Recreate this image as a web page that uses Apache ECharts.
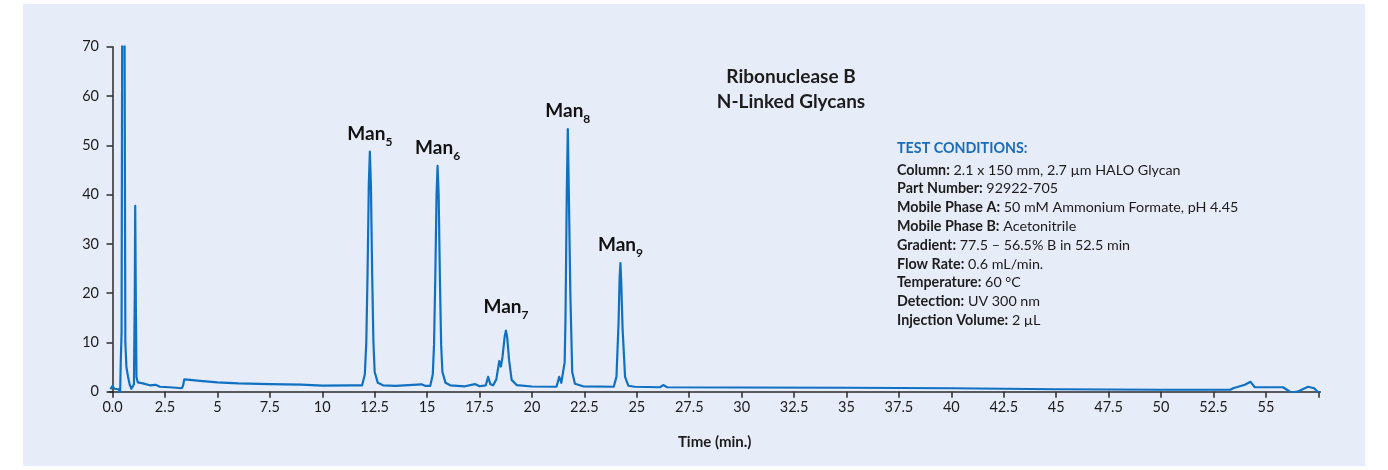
<!DOCTYPE html>
<html>
<head>
<meta charset="utf-8">
<script src="https://cdn.jsdelivr.net/npm/echarts@6/dist/echarts.min.js"></script>
<style>
  html, body { margin: 0; padding: 0; background: #ffffff; }
  #chart { width: 1388px; height: 470px; }
</style>
</head>
<body>
<div id="chart"></div>
<script>
// retention time (min) and detector signal
var times = [
  -0.10, 0.00, 0.08, 0.30, 0.36, 0.39, 0.43, 0.46, 0.51, 0.57, 0.61, 0.66, 0.74, 0.82, 0.90, 0.96,
  1.02, 1.06, 1.08, 1.11, 1.14, 1.20, 1.44, 1.78, 2.05, 2.26, 2.73, 3.30, 3.36, 3.42, 3.69, 4.16,
  5.00, 6.00, 7.50, 9.00, 10.00, 11.40, 11.90, 12.03, 12.10, 12.16, 12.22, 12.27, 12.32, 12.38, 12.44, 12.50, 12.65, 12.90,
  13.50, 14.73, 14.90, 15.15, 15.27, 15.33, 15.39, 15.45, 15.50, 15.55, 15.61, 15.67, 15.73, 15.88, 16.10, 16.80, 17.28, 17.50,
  17.80, 17.91, 18.02, 18.15, 18.30, 18.44, 18.52, 18.60, 18.70, 18.76, 18.82, 18.91, 19.03, 19.27, 20.00, 21.17,
  21.30, 21.40, 21.46, 21.56, 21.60, 21.66, 21.71, 21.76, 21.83, 21.92, 22.05, 22.44, 23.90, 24.03, 24.13, 24.18, 24.22,
  24.26, 24.32, 24.44, 24.60, 24.90, 26.10, 26.26, 26.45, 30.00, 35.00, 40.00, 45.00, 50.00, 53.30, 53.44,
  54.00, 54.27, 54.47, 55.82, 56.22, 56.50, 57.01, 57.30, 57.54
];
var signal = [
  0.5, 1.2, 0.6, 0.5, -0.5, 6.0, 12, 75, 140, 75, 10, 5, 3, 1.4, 0.6, 0.5,
  1.5, 20, 37.7, 18, 3, 1.9, 1.7, 1.3, 1.4, 1.0, 0.9, 0.7, 1.2, 2.5, 2.4, 2.2,
  1.9, 1.7, 1.55, 1.45, 1.25, 1.3, 1.3, 3.5, 10, 24, 42, 48.7, 42, 24, 10, 4, 1.8, 1.3,
  1.2, 1.5, 1.2, 1.2, 3.5, 9.5, 23, 40, 45.8, 40, 23, 9.5, 4, 1.8, 1.3, 1.1, 1.55, 1.1,
  1.3, 3.0, 1.5, 1.3, 2.5, 6.2, 5.1, 7.2, 11.2, 12.4, 11.0, 6.4, 2.4, 1.35, 1.05, 1.0,
  3.0, 1.8, 1.8, 6, 15, 40, 53.3, 40, 20, 4, 1.6, 1.1, 1.0, 3, 14, 23, 26.1,
  22, 13, 3, 1.2, 1.0, 0.9, 1.35, 0.9, 0.85, 0.8, 0.7, 0.5, 0.4, 0.4, 0.7,
  1.4, 2.0, 0.9, 0.9, -0.2, 0.0, 1.0, 0.7, -0.3
];

// peak annotations
var peakNames = ['5', '6', '7', '8', '9'];
var peakTimes = [12.27, 15.50, 18.76, 21.71, 24.22];
var peakHeights = [48.7, 45.8, 12.4, 53.3, 26.1];

// axis ticks
var xTickValues = [0, 2.5, 5, 7.5, 10, 12.5, 15, 17.5, 20, 22.5, 25, 27.5, 30, 32.5, 35, 37.5, 40, 42.5, 45, 47.5, 50, 52.5, 55, 57.5];
var xTickLabels = ['0.0', '2.5', '5', '7.5', '10', '12.5', '15', '17.5', '20', '22.5', '25', '27.5', '30', '32.5', '35', '37.5', '40', '42.5', '45', '47.5', '50', '52.5', '55', ''];

var conditionKeys = ['Column:', 'Part Number:', 'Mobile Phase A:', 'Mobile Phase B:', 'Gradient:', 'Flow Rate:', 'Temperature:', 'Detection:', 'Injection Volume:'];
var conditionValues = ['2.1 x 150 mm, 2.7 µm HALO Glycan', '92922-705', '50 mM Ammonium Formate, pH 4.45', 'Acetonitrile', '77.5 – 56.5% B in 52.5 min', '0.6 mL/min.', '60 °C', 'UV 300 nm', '2 µL'];

var FONT = 'Lato, "Open Sans", sans-serif';
var LINE = '#1071c2';
var INK = '#1c1c1c';
var HEAD = '#1a6cb8';

var trace = times.map(function (t, i) { return [t, signal[i]]; });
var labelGap = [3, 3, 9, 3, 3];

var condText = ['{h|TEST CONDITIONS:}'].concat(conditionKeys.map(function (k, i) {
  return '{b|' + k + '} {r|' + conditionValues[i] + '}';
})).join('\n');

var chart = echarts.init(document.getElementById('chart'));
chart.setOption({
  animation: false,
  backgroundColor: '#ffffff',
  textStyle: { fontFamily: FONT },
  graphic: [
    {
      type: 'rect', z: -10, silent: true,
      shape: { x: 23, y: 4, width: 1342, height: 462 },
      style: { fill: '#e6ecf8' }
    },
    {
      type: 'text', x: 791, y: 64,
      style: {
        text: 'Ribonuclease B\nN-Linked Glycans',
        align: 'center', fill: INK,
        font: 'bold 19px ' + FONT, lineHeight: 25
      }
    },
    {
      type: 'text', x: 897, y: 135.4,
      style: {
        text: condText,
        fill: INK,
        font: '14.3px ' + FONT,
        lineHeight: 18.8,
        rich: {
          h: { fontFamily: FONT, fontSize: 14.3, fontWeight: 'bold', fill: HEAD, color: HEAD, lineHeight: 25.2 },
          b: { fontFamily: FONT, fontSize: 14.3, fontWeight: 'bold', fill: INK, lineHeight: 18.8 },
          r: { fontFamily: FONT, fontSize: 14.3, fill: INK, lineHeight: 18.8 }
        }
      }
    }
  ],
  grid: { left: 109, top: 46.7, right: 67.6, bottom: 78.3 },
  xAxis: {
    type: 'value',
    min: -0.17,
    max: 57.6,
    name: 'Time (min.)',
    nameLocation: 'middle',
    nameGap: 43,
    nameTextStyle: { color: INK, fontSize: 15, fontWeight: 'bold', fontFamily: FONT },
    axisLine: { onZero: false, lineStyle: { color: '#2a2a2a', width: 1.5 } },
    axisTick: { show: true, length: 6, customValues: xTickValues, lineStyle: { color: '#2a2a2a', width: 1.5 } },
    axisLabel: {
      customValues: xTickValues,
      margin: 8, color: INK, fontSize: 14.5, fontFamily: FONT,
      formatter: function (v) {
        var i = xTickValues.indexOf(v);
        return i >= 0 ? xTickLabels[i] : '';
      }
    },
    splitLine: { show: false }
  },
  yAxis: {
    type: 'value',
    min: 0,
    max: 70,
    interval: 10,
    axisLine: { show: true, lineStyle: { color: '#2a2a2a', width: 1.5 } },
    axisTick: { show: true, length: 6, lineStyle: { color: '#2a2a2a', width: 1.5 } },
    axisLabel: { margin: 10, color: INK, fontSize: 14.5, fontFamily: FONT },
    splitLine: { show: false }
  },
  series: [
    {
      type: 'line',
      data: trace,
      showSymbol: false,
      clip: true,
      lineStyle: { color: LINE, width: 2.2, join: 'round' },
      markPoint: {
        symbol: 'circle',
        symbolSize: 1,
        itemStyle: { color: 'rgba(0,0,0,0)' },
        data: peakNames.map(function (n, i) {
          return {
            coord: [peakTimes[i], peakHeights[i]],
            label: {
              show: true,
              position: 'top',
              distance: labelGap[i],
              formatter: '{m|Man}{s|' + n + '}',
              rich: {
                m: { fontFamily: FONT, fontSize: 19, fontWeight: 'bold', color: '#111', verticalAlign: 'bottom', padding: [0, 0, 5, 0] },
                s: { fontFamily: FONT, fontSize: 12, fontWeight: 'bold', color: '#111', verticalAlign: 'bottom' }
              }
            }
          };
        })
      }
    }
  ]
});
</script>
</body>
</html>
